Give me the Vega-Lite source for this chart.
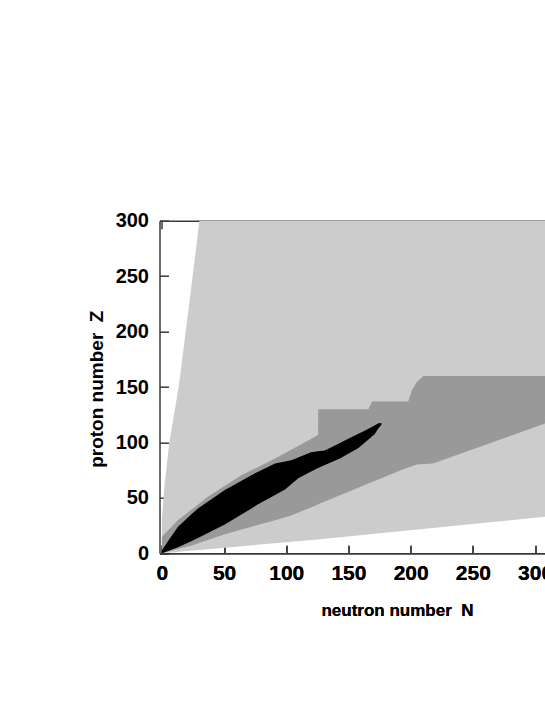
{
  "$schema": "https://vega.github.io/schema/vega-lite/v6.json",
  "width": 385.5,
  "height": 332.6,
  "autosize": {"type": "none"},
  "padding": {"left": 159.5, "top": 220.7, "right": 0, "bottom": 151.7},
  "background": "white",
  "config": {
    "view": {"stroke": null},
    "axis": {
      "domainColor": "#3a3a3a", "domainWidth": 1.5,
      "tickColor": "#3a3a3a", "tickWidth": 1.5,
      "grid": false,
      "labelFont": "Liberation Sans", "labelFontWeight": "bold", "labelColor": "#000000",
      "titleFont": "Liberation Sans", "titleFontWeight": "bold", "titleColor": "#000000",
      "labelFlush": false, "labelOverlap": false, "labelBound": false,
      "zindex": 1
    }
  },
  "data": {"values": [
    {"region": "light", "N": 0, "hi": 30, "lo": 0},
    {"region": "light", "N": 2, "hi": 60, "lo": 0.2},
    {"region": "light", "N": 6, "hi": 100, "lo": 0.6},
    {"region": "light", "N": 13.5, "hi": 150, "lo": 1.35},
    {"region": "light", "N": 22, "hi": 225, "lo": 2.2},
    {"region": "light", "N": 30.2, "hi": 300, "lo": 3},
    {"region": "light", "N": 125, "hi": 300, "lo": 12.5},
    {"region": "light", "N": 308, "hi": 300, "lo": 33},

    {"region": "mid", "N": 0, "hi": 15, "lo": 0},
    {"region": "mid", "N": 13, "hi": 30, "lo": 3.8},
    {"region": "mid", "N": 24, "hi": 39.6, "lo": 7},
    {"region": "mid", "N": 37, "hi": 51, "lo": 12},
    {"region": "mid", "N": 50, "hi": 60.4, "lo": 17},
    {"region": "mid", "N": 64, "hi": 70.5, "lo": 21.4},
    {"region": "mid", "N": 91, "hi": 85.5, "lo": 29.9},
    {"region": "mid", "N": 104, "hi": 93.4, "lo": 34},
    {"region": "mid", "N": 125.6, "hi": 106.6, "lo": 44.1},
    {"region": "mid", "N": 125.7, "hi": 130, "lo": 44.2},
    {"region": "mid", "N": 151, "hi": 130, "lo": 56},
    {"region": "mid", "N": 166, "hi": 130, "lo": 63},
    {"region": "mid", "N": 169, "hi": 137, "lo": 64.4},
    {"region": "mid", "N": 192, "hi": 137, "lo": 75},
    {"region": "mid", "N": 198, "hi": 137, "lo": 77.3},
    {"region": "mid", "N": 201, "hi": 147, "lo": 78.5},
    {"region": "mid", "N": 205, "hi": 154.6, "lo": 80},
    {"region": "mid", "N": 210.3, "hi": 160, "lo": 80.6},
    {"region": "mid", "N": 218, "hi": 160, "lo": 81},
    {"region": "mid", "N": 308, "hi": 160, "lo": 117},

    {"region": "black", "N": 0, "hi": 2.5, "lo": 0},
    {"region": "black", "N": 5, "hi": 11, "lo": 2},
    {"region": "black", "N": 13, "hi": 24, "lo": 5.5},
    {"region": "black", "N": 24, "hi": 35.5, "lo": 11},
    {"region": "black", "N": 29, "hi": 40.5, "lo": 13.8},
    {"region": "black", "N": 50.6, "hi": 57, "lo": 26},
    {"region": "black", "N": 72, "hi": 70.5, "lo": 40.5},
    {"region": "black", "N": 77, "hi": 73.3, "lo": 44},
    {"region": "black", "N": 91, "hi": 81, "lo": 52.5},
    {"region": "black", "N": 99, "hi": 82.8, "lo": 57.5},
    {"region": "black", "N": 104, "hi": 84, "lo": 62.3},
    {"region": "black", "N": 110, "hi": 86.6, "lo": 68},
    {"region": "black", "N": 120, "hi": 91.2, "lo": 73.8},
    {"region": "black", "N": 125.6, "hi": 92, "lo": 77},
    {"region": "black", "N": 131, "hi": 92.8, "lo": 79.6},
    {"region": "black", "N": 144, "hi": 100, "lo": 86},
    {"region": "black", "N": 147, "hi": 101.7, "lo": 88},
    {"region": "black", "N": 158, "hi": 107.8, "lo": 95},
    {"region": "black", "N": 163, "hi": 110.5, "lo": 99.8},
    {"region": "black", "N": 171, "hi": 115.3, "lo": 107.3},
    {"region": "black", "N": 174, "hi": 117.2, "lo": 112.5},
    {"region": "black", "N": 176.5, "hi": 117.5, "lo": 116}
  ]},
  "encoding": {
    "x": {
      "field": "N", "type": "quantitative",
      "scale": {"domain": [-1.9, 308], "nice": false, "zero": false},
      "axis": {
        "orient": "bottom",
        "values": [0, 50, 100, 150, 200, 250, 300],
        "tickSize": -8, "labelPadding": 17.5, "labelFontSize": 21,
        "title": "neutron number\u00a0 N", "titleFontSize": 17,
        "titleX": 237.5, "titleY": 61.7, "titleBaseline": "alphabetic", "titleAlign": "center"
      }
    },
    "y": {
      "field": "hi", "type": "quantitative",
      "scale": {"domain": [0, 300], "nice": false, "zero": false},
      "axis": {
        "values": [0, 50, 100, 150, 200, 250, 300],
        "tickSize": -9, "labelPadding": 20, "labelFontSize": 20,
        "title": "proton number\u00a0 Z", "titleFontSize": 19, "titleAngle": 270,
        "titleX": -57, "titleY": 168, "titleBaseline": "alphabetic", "titleAlign": "center"
      }
    },
    "y2": {"field": "lo"}
  },
  "layer": [
    {
      "transform": [{"filter": "datum.region === 'light'"}],
      "mark": {"type": "area", "color": "#cccccc", "clip": true}
    },
    {
      "transform": [{"filter": "datum.region === 'mid'"}],
      "mark": {"type": "area", "color": "#999999", "clip": true},
      "encoding": {
        "x": {
          "field": "N", "type": "quantitative",
          "scale": {"domain": [-1.9, 308], "nice": false, "zero": false},
          "axis": {"orient": "top", "values": [0, 50, 100, 150, 200, 250, 300], "tickSize": -8, "labels": false, "title": null}
        }
      }
    },
    {
      "transform": [{"filter": "datum.region === 'black'"}],
      "mark": {"type": "area", "color": "#000000", "clip": true}
    }
  ],
  "resolve": {"axis": {"x": "independent"}}
}
